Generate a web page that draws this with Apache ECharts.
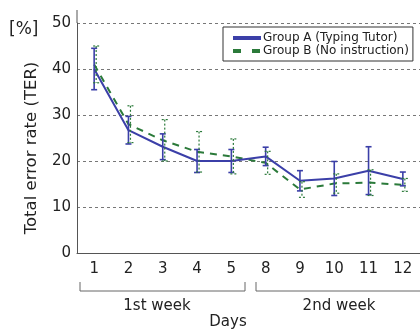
<!DOCTYPE html>
<html><head><meta charset="utf-8">
<script src="https://cdn.jsdelivr.net/npm/echarts@6/dist/echarts.min.js"></script>
<style>html,body{margin:0;padding:0;background:#fff}#c{width:420px;height:329px}</style>
</head><body><div id="c"></div>
<script>
const days = ['1','2','3','4','5','8','9','10','11','12'];
const groupA = [40, 26.7, 23.1, 20, 20, 21, 15.7, 16.2, 17.9, 16.1];
const groupAErr = [4.5, 3, 2.8, 2.5, 2.5, 2, 2.2, 3.7, 5.2, 1.5];
const groupB = [41, 28, 24.5, 22, 21, 19.6, 13.8, 15.1, 15.3, 14.8];
const groupBErr = [4, 4, 4.5, 4.4, 3.8, 2.5, 1.7, 2.1, 2.8, 1.4];
const yTicks = [0, 10, 20, 30, 40, 50];

const FONT = 'DejaVu Sans';
const blue = '#3b3fa8';
const green = '#2b7a3a';

function errData(vals, errs) {
  return vals.map((v, i) => [i, v - errs[i], v + errs[i]]);
}
function errRender(color, dx, dotted) {
  return function (params, api) {
    const lo = api.coord([api.value(0), api.value(1)]);
    const hi = api.coord([api.value(0), api.value(2)]);
    const x = lo[0] + dx;
    const w = 3;
    const st = { stroke: color, lineWidth: dotted ? 1.2 : 1.6, lineDash: dotted ? [2, 2] : null };
    return {
      type: 'group',
      children: [
        { type: 'line', shape: { x1: x, y1: hi[1], x2: x, y2: lo[1] }, style: st },
        { type: 'line', shape: { x1: x - w, y1: hi[1], x2: x + w, y2: hi[1] }, style: st },
        { type: 'line', shape: { x1: x - w, y1: lo[1], x2: x + w, y2: lo[1] }, style: st }
      ]
    };
  };
}

const chart = echarts.init(document.getElementById('c'), null, { renderer: 'canvas' });
chart.setOption({
  animation: false,
  textStyle: { fontFamily: FONT },
  grid: { left: 77, top: 23, width: 350, bottom: 76 },
  xAxis: {
    type: 'category', data: days, boundaryGap: true,
    axisLine: { lineStyle: { color: '#555', width: 1 } },
    axisTick: { show: false },
    axisLabel: { color: '#222', fontSize: 15, fontFamily: FONT, margin: 9 }
  },
  yAxis: {
    type: 'value', min: 0, max: 50, interval: 10,
    axisLine: { show: true, lineStyle: { color: '#555', width: 1 } },
    axisTick: { show: false },
    axisLabel: { color: '#222', fontSize: 15, fontFamily: FONT, margin: 6 },
    splitLine: { show: true, lineStyle: { color: '#777', type: [3, 3], width: 1 } }
  },
  legend: {
    orient: 'vertical', left: 223, top: 27,
    backgroundColor: '#fff', borderColor: '#333', borderWidth: 1, borderRadius: 0,
    padding: [5, 4, 4, 8], itemGap: 1, itemWidth: 28, itemHeight: 13,
    itemStyle: { opacity: 0 },
    lineStyle: { width: 4 },
    textStyle: { fontSize: 12, color: '#222', fontFamily: FONT, padding: [0, 0, 0, -3] },
    data: [
      { name: 'Group A (Typing Tutor)' },
      { name: 'Group B (No instruction)', lineStyle: { type: [8, 11], width: 4 } }
    ]
  },
  series: [
    {
      name: 'Group A (Typing Tutor)', type: 'line', data: groupA,
      symbol: 'none', showSymbol: false,
      lineStyle: { color: blue, width: 2 }, itemStyle: { color: blue }, z: 3
    },
    {
      name: 'Group B (No instruction)', type: 'line', data: groupB,
      symbol: 'none', showSymbol: false,
      lineStyle: { color: green, width: 2, type: [7, 6] }, itemStyle: { color: green }, z: 2
    },
    {
      type: 'custom', data: errData(groupA, groupAErr),
      renderItem: errRender(blue, 0, false), z: 4, silent: true
    },
    {
      type: 'custom', data: errData(groupB, groupBErr),
      renderItem: errRender(green, 2, true), z: 4, silent: true
    }
  ],
  graphic: [
    { type: 'line', shape: { x1: 77, y1: 10, x2: 77, y2: 23 }, style: { stroke: '#555', lineWidth: 1 } },
    { type: 'text', left: 9, top: 21, style: { text: '[%]', fontSize: 17, fontFamily: FONT, fill: '#222' } },
    { type: 'text', x: 32, y: 148, rotation: Math.PI / 2,
      style: { text: 'Total error rate (TER)', fontSize: 16.5, fontFamily: FONT, fill: '#222', align: 'center', verticalAlign: 'middle' } },
    { type: 'polyline', shape: { points: [[80, 282], [80, 291], [245, 291], [245, 282]] }, style: { stroke: '#666', lineWidth: 1, fill: null } },
    { type: 'polyline', shape: { points: [[256, 282], [256, 291], [430, 291]] }, style: { stroke: '#666', lineWidth: 1, fill: null } },
    { type: 'text', x: 157, y: 306, style: { text: '1st week', fontSize: 15, fontFamily: FONT, fill: '#222', align: 'center', verticalAlign: 'middle' } },
    { type: 'text', x: 339, y: 306, style: { text: '2nd week', fontSize: 15, fontFamily: FONT, fill: '#222', align: 'center', verticalAlign: 'middle' } },
    { type: 'text', x: 228, y: 322, style: { text: 'Days', fontSize: 15, fontFamily: FONT, fill: '#222', align: 'center', verticalAlign: 'middle' } }
  ]
});
</script>
</body></html>
